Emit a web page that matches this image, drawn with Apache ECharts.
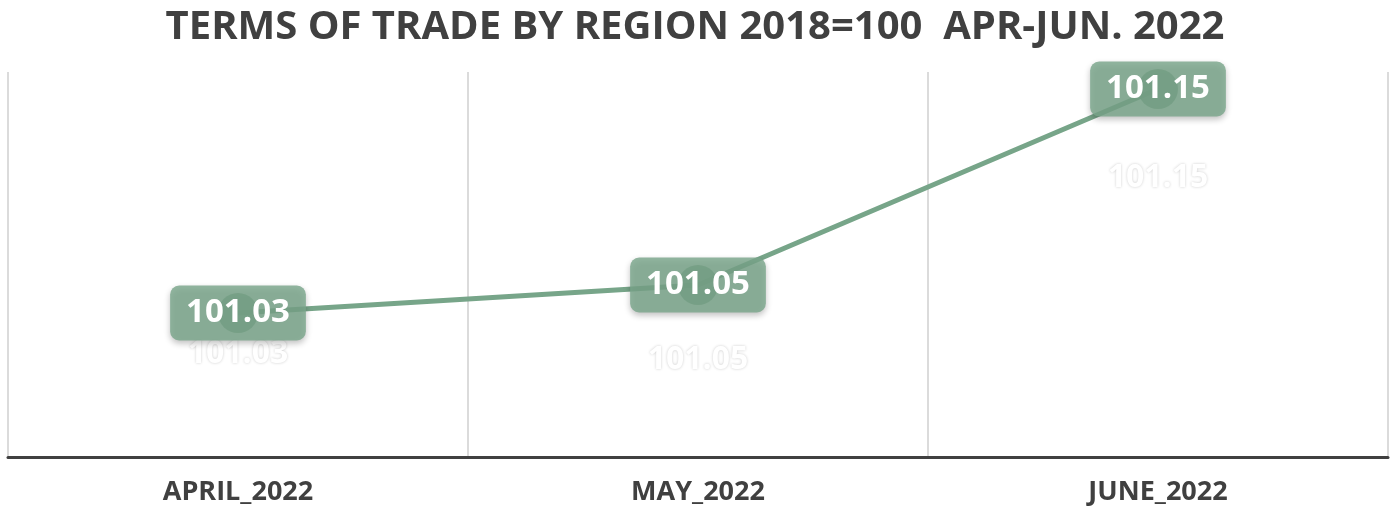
<!DOCTYPE html>
<html>
<head>
<meta charset="utf-8">
<script src="https://cdn.jsdelivr.net/npm/echarts@6/dist/echarts.min.js"></script>
<style>
  html, body { margin: 0; padding: 0; background: #fff; }
  #main { width: 1390px; height: 510px; }
</style>
</head>
<body>
<div id="main"></div>
<script>
// 数据
var months = ['APRIL_2022', 'MAY_2022', 'JUNE_2022'];
var tradeIndex = [101.034, 101.048, 101.146]; // 标签显示两位小数
var titleText = 'TERMS OF TRADE BY REGION 2018=100  APR-JUN. 2022';

var chart = echarts.init(document.getElementById('main'));

// 倒影标签与点的距离（样式）
var ghostGap = [24, 58, 72];
var ghostData = tradeIndex.map(function (v, i) {
  return { value: v, label: { distance: ghostGap[i] } };
});

var option = {
  backgroundColor: '#ffffff',
  title: {
    text: titleText,
    left: 'center',
    top: 3,
    textStyle: {
      fontFamily: 'Open Sans',
      fontWeight: 'bold',
      fontSize: 40,
      color: '#404040'
    }
  },
  grid: { left: 8, right: 2, top: 72, bottom: 53 },
  xAxis: {
    type: 'category',
    data: months,
    boundaryGap: true,
    axisLine: { lineStyle: { color: '#404040', width: 3 } },
    axisTick: { show: false },
    axisLabel: {
      margin: 22,
      fontFamily: 'Open Sans',
      fontWeight: 'bold',
      fontSize: 27,
      color: '#404040'
    },
    splitLine: { show: true, lineStyle: { color: '#cfcfcf', width: 1.5 } }
  },
  yAxis: {
    type: 'value',
    min: 100.962,
    max: 101.1545,
    show: false,
    splitLine: { show: false }
  },
  series: [
    {
      // 倒影标签
      type: 'line',
      data: ghostData,
      symbol: 'circle',
      symbolSize: 1,
      itemStyle: { color: 'rgba(255,255,255,0)' },
      lineStyle: { opacity: 0 },
      silent: true,
      z: 1,
      label: {
        show: true,
        position: 'bottom',
        formatter: function (p) { return p.value.toFixed(2); },
        fontFamily: 'Open Sans',
        fontWeight: 'bold',
        fontSize: 32,
        color: '#ffffff',
        textShadowColor: 'rgba(0,0,0,0.2)',
        textShadowBlur: 3
      }
    },
    {
      type: 'line',
      data: tradeIndex,
      z: 3,
      symbol: 'circle',
      symbolSize: 40,
      itemStyle: { color: 'rgba(108,152,122,0.8)' },
      lineStyle: { color: '#77a589', width: 5 },
      label: {
        show: true,
        position: 'inside',
        formatter: function (p) { return p.value.toFixed(2); },
        fontFamily: 'Open Sans',
        fontWeight: 'bold',
        fontSize: 33,
        color: '#ffffff',
        backgroundColor: 'rgba(122,166,139,0.82)',
        borderRadius: 9,
        padding: [12, 16, 10, 16],
        shadowColor: 'rgba(0,0,0,0.3)',
        shadowBlur: 6,
        shadowOffsetY: 3
      }
    }
  ]
};

chart.setOption(option);
</script>
</body>
</html>
